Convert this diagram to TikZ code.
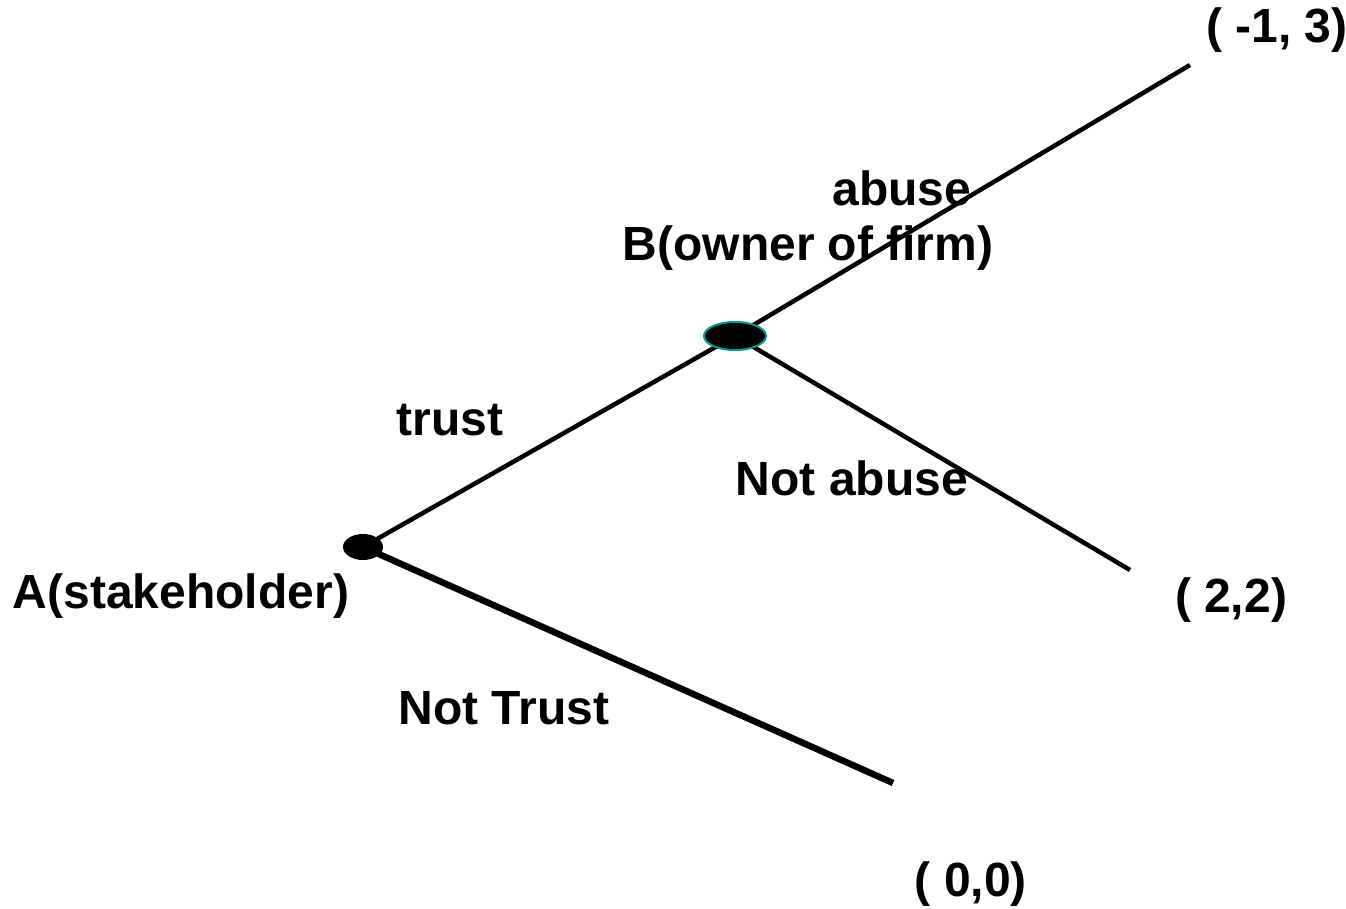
\documentclass[tikz,border=0pt]{standalone}
\usepackage{fontspec}
\setmainfont{Liberation Sans}
\usetikzlibrary{shapes.geometric}
\tikzset{
  lbl/.style={font=\fontsize{48}{58}\selectfont\bfseries, inner sep=0pt},
  branch/.style={line width=4.5pt},
  dot/.style={ellipse, fill=black, inner sep=0pt},
}
\begin{document}
\begin{tikzpicture}[x=1pt, y=-1pt]
    \useasboundingbox (0,0) rectangle (1346,909);
    \coordinate (abuseEnd) at (1190,65);
    \coordinate (notAbuseEnd) at (1130,570);
    \coordinate (notTrustEnd) at (893,783);
    \coordinate (Apos) at (363,547);
    \coordinate (Bpos) at (735,336);
    \draw[branch] (Apos) -- (Bpos);
    \draw[branch] (Bpos) -- (abuseEnd);
    \draw[branch] (Bpos) -- (notAbuseEnd);
    \draw[line width=6.5pt] (Apos) -- (notTrustEnd);
    \node[dot, minimum width=40pt, minimum height=26pt] (A) at (Apos) {};
    \node[dot, draw={rgb,255:red,0;green,150;blue,150}, line width=2pt, minimum width=62pt, minimum height=28pt] (B) at (Bpos) {};
    \node[lbl] (payoffAbuse) at (1277,30) {( -1, 3)};
    \node[lbl] (abuse) at (902,188) {abuse};
    \node[lbl] (Bname) at (808,248) {B(owner of firm)};
    \node[lbl] (trust) at (450,420) {trust};
    \node[lbl] (notabuse) at (852,478) {Not abuse};
    \node[lbl] (Aname) at (181,596) {A(stakeholder)};
    \node[lbl] (payoffNotAbuse) at (1231,600) {( 2,2)};
    \node[lbl] (nottrust) at (504,708) {Not Trust};
    \node[lbl] (payoffNotTrust) at (971,884) {( 0,0)};
\end{tikzpicture}
\end{document}
